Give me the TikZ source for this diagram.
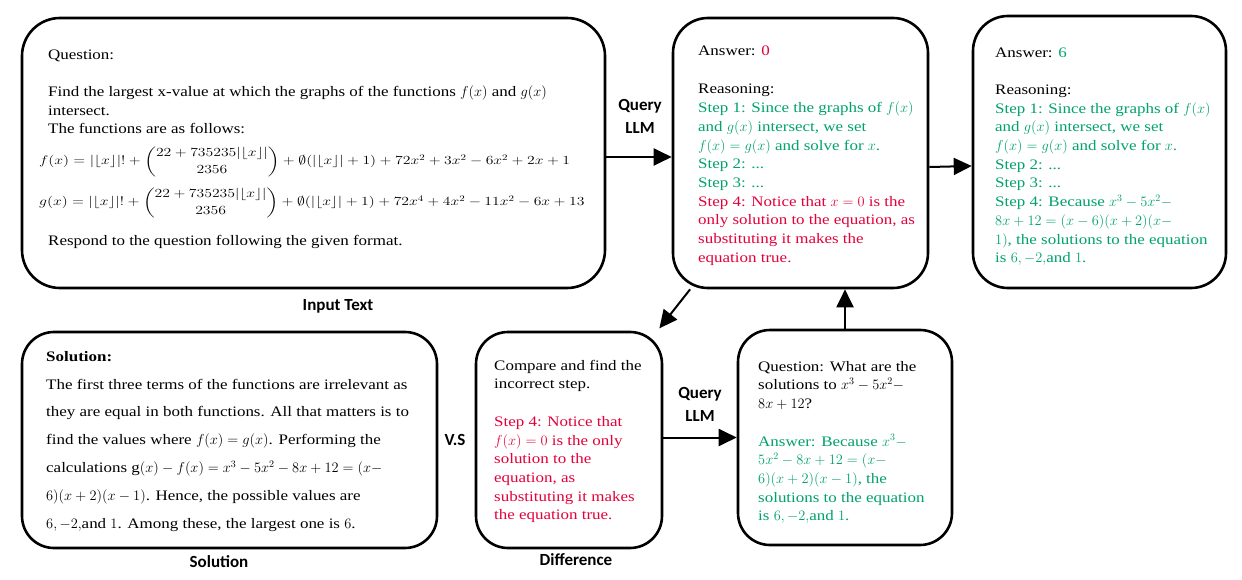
\documentclass[tikz,border=0pt]{standalone}
\usepackage{amsmath,amssymb}
\usepackage{fontspec}
\setmainfont[FakeStretch=1.17]{Liberation Serif}
\newfontfamily\lblfont{Carlito}
\usetikzlibrary{arrows.meta}
\definecolor{myred}{RGB}{228,0,58}
\definecolor{mygreen}{RGB}{0,163,105}
\newcommand\rd[1]{\textcolor{myred}{#1}}
\newcommand\gr[1]{\textcolor{mygreen}{#1}}
\newcommand\fl{|\lfloor x\rfloor|}
\begin{document}
\begin{tikzpicture}[x=1pt,y=-1pt,
  box/.style={draw, line width=2.6pt, inner sep=0pt},
  txt/.style={anchor=north west, inner sep=0pt, align=left, font=\fontsize{14.5}{18.7}\selectfont},
  one/.style={anchor=base west, inner sep=0pt, font=\fontsize{14.5}{18.7}\selectfont},
  lbl/.style={inner sep=0pt, align=center, font=\lblfont\bfseries\fontsize{17}{23}\selectfont},
  arr/.style={line width=2pt, -{Triangle[length=18pt,width=17pt]}}]
\useasboundingbox[fill=white] (0,0) rectangle (1242,580);
% boxes
\node[box, rounded corners=38pt, minimum width=583pt, minimum height=270pt] (inbox) at (313.5,153) {};
\node[box, rounded corners=35pt, minimum width=255pt, minimum height=270pt] (ans1) at (800.5,153) {};
\node[box, rounded corners=35pt, minimum width=253pt, minimum height=272pt] (ans2) at (1099.5,152) {};
\node[box, rounded corners=32pt, minimum width=415pt, minimum height=216pt] (solbox) at (229.5,440) {};
\node[box, rounded corners=32pt, minimum width=186pt, minimum height=216pt] (diff) at (569,440) {};
\node[box, rounded corners=32pt, minimum width=214pt, minimum height=215pt] (qbox) at (845,437.5) {};
% input text
\node[txt] (intro) at (48,47) {\rule{0pt}{12pt}Question:\\[18.7pt]
Find the largest x-value at which the graphs of the functions $f(x)$ and $g(x)$\\
intersect.\\
The functions are as follows:};
\node[one] (feq) at (39,165) {\scalebox{1.09}[0.86]{$f(x) = \fl! + \dbinom{22+735235\fl}{2356} + \emptyset(\fl+1) + 72x^2 + 3x^2 - 6x^2 + 2x + 1$}};
\node[one] (geq) at (39,206) {\scalebox{1.09}[0.86]{$g(x) = \fl! + \dbinom{22+735235\fl}{2356} + \emptyset(\fl+1) + 72x^4 + 4x^2 - 11x^2 - 6x + 13$}};
\node[one] (resp) at (48,245) {Respond to the question following the given format.};
% answer 1
\node[txt] (a1t) at (698,43) {\rule{0pt}{12pt}Answer: \rd{0}\\[20pt]
Reasoning:\\
\gr{Step 1: Since the graphs of $f(x)$}\\
\gr{and $g(x)$ intersect, we set}\\
\gr{$f(x)=g(x)$ and solve for $x$.}\\
\gr{Step 2: ...}\\
\gr{Step 3: ...}\\
\rd{Step 4: Notice that $x=0$ is the}\\
\rd{only solution to the equation, as}\\
\rd{substituting it makes the}\\
\rd{equation true.}};
% answer 2
\node[txt] (a2t) at (995,45) {\rule{0pt}{12pt}Answer: \gr{6}\\[18.5pt]
Reasoning:\\
\gr{Step 1: Since the graphs of $f(x)$}\\
\gr{and $g(x)$ intersect, we set}\\
\gr{$f(x)=g(x)$ and solve for $x$.}\\
\gr{Step 2: ...}\\
\gr{Step 3: ...}\\
\gr{Step 4: Because $x^3-5x^2-$}\\
\gr{$8x+12=(x-6)(x+2)(x-$}\\
\gr{$1)$, the solutions to the equation}\\
\gr{is $6,-2,$and $1$.}};
% solution
\node[txt, font=\fontsize{14.5}{27.8}\selectfont] (solt) at (46,349) {\rule{0pt}{12pt}\textbf{Solution:}\\
The first three terms of the functions are irrelevant as\\
they are equal in both functions. All that matters is to\\
find the values where $f(x)=g(x)$. Performing the\\
calculations g$(x)-f(x)=x^3-5x^2-8x+12=(x-$\\
$6)(x+2)(x-1)$. Hence, the possible values are\\
$6,-2,$and $1$. Among these, the largest one is $6$.};
% difference
\node[txt] (difft) at (494,358) {\rule{0pt}{12pt}Compare and find the\\
incorrect step.\\[18.7pt]
\rd{Step 4: Notice that}\\
\rd{$f(x)=0$ is the only}\\
\rd{solution to the}\\
\rd{equation, as}\\
\rd{substituting it makes}\\
\rd{the equation true.}};
% question
\node[txt] (qt) at (758,359) {\rule{0pt}{12pt}Question: What are the\\
solutions to $x^3-5x^2-$\\
$8x+12$?\\[18.7pt]
\gr{Answer: Because $x^3-$}\\
\gr{$5x^2-8x+12=(x-$}\\
\gr{$6)(x+2)(x-1)$, the}\\
\gr{solutions to the equation}\\
\gr{is $6,-2,$and $1$.}};
% labels
\node[lbl] (l1) at (338,306) {Input Text};
\node[lbl] (l2) at (219,562) {Solution};
\node[lbl] (l3) at (576,560) {Difference};
\node[lbl] (q1) at (640,116.5) {Query\\LLM};
\node[lbl] (q2) at (700,404.5) {Query\\LLM};
\node[lbl] (vs) at (455,440) {V.S};
% arrows
\draw[arr] ([yshift=-4pt]inbox.east) -- ([yshift=-4pt]ans1.west);
\draw[arr] ([yshift=-14pt]ans1.east) -- ([yshift=-14pt]ans2.west);
\draw[arr, shorten >=3pt] (ans1.231) -- (diff.51);
\draw[arr] (diff.east |- qbox.west) -- (qbox.west);
\draw[arr] (qbox.north) -- (qbox.north |- ans1.south);
\end{tikzpicture}
\end{document}
